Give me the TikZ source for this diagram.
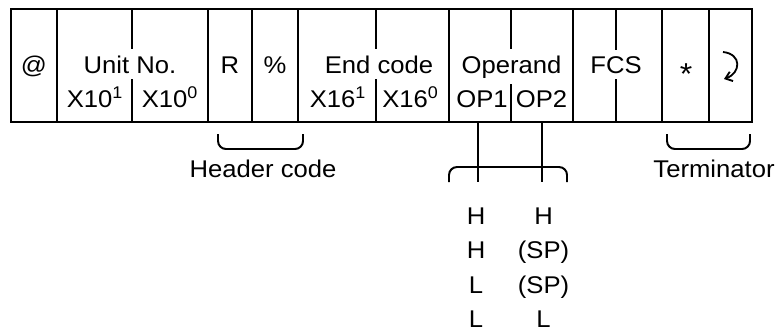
\documentclass[tikz,border=0pt]{standalone}
\usepackage{fontspec}
\setmainfont{Liberation Sans}[FakeStretch=1.06]
\usetikzlibrary{arrows.meta}

\begin{document}
\begin{tikzpicture}[
    x=0.025cm, y=-0.025cm,
    cell/.style={
        rectangle,
        draw,
        line width=1.4pt,
        minimum height=113*0.025cm,
        inner sep=0pt
    },
    lbl/.style={
        anchor=base,
        inner sep=0pt,
        font=\fontsize{17.2}{20}\selectfont
    },
    hdr/.style={
        lbl,
        fill=white,
        inner xsep=1pt,
        inner ysep=0.15cm
    },
    brace/.style={
        line width=1.4pt,
        rounded corners=0.2cm
    },
    link/.style={
        line width=1.4pt
    },
    crarrow/.style={
        line width=1.3pt,
        -{Straight Barb[length=4.5pt, width=7pt]}
    }
]
\useasboundingbox (0,0) rectangle (780,331);

% ------------------------------------------------
% Frame cells
% ------------------------------------------------
\foreach \l/\r/\n in {11/57/atsign, 57/132/unita, 132/208/unitb,
    208/252/hdrr, 252/298/hdrpct, 298/376/enda, 376/449/endb,
    449/511/opa, 511/573/opb, 573/616/fcsa, 616/662/fcsb,
    662/709/ast, 709/752/cr}{
  \node[cell, minimum width={(\r-\l)*0.025cm}] (\n) at ({(\l+\r)/2}, 65.5) {};
}

% ------------------------------------------------
% Top row texts
% ------------------------------------------------
\node[lbl] (tat)  at (34, 73)  {@};
\node[hdr] (tunit) at (130, 73) {Unit No.};
\node[lbl] (tr)   at (230, 73) {R};
\node[lbl] (tpct) at (275, 73) {\%};
\node[hdr] (tend) at (379, 73) {End code};
\node[hdr] (top)  at (511.5, 73) {Operand};
\node[hdr] (tfcs) at (616, 73) {FCS};
\node[lbl, font=\fontsize{21.5}{24}\selectfont] (tast) at (686, 84) {*};

% carriage return mark
\coordinate (crtop) at (723, 52);
\coordinate (crend) at (724, 79);
\draw[crarrow] (crtop) .. controls (742, 54) and (741, 73) .. (crend);

% ------------------------------------------------
% Second row texts
% ------------------------------------------------
\node[lbl] (bua) at (95, 107)  {X10\textsuperscript{1}};
\node[lbl] (bub) at (170, 107) {X10\textsuperscript{0}};
\node[lbl] (bea) at (338, 107) {X16\textsuperscript{1}};
\node[lbl] (beb) at (410.5, 107) {X16\textsuperscript{0}};
\node[lbl] (boa) at (482, 107) {OP1};
\node[lbl] (bob) at (541.5, 107) {OP2};

% ------------------------------------------------
% Braces
% ------------------------------------------------
\draw[brace] (218,134) -- (218,149) -- (303,149) -- (303,134);
\node[lbl] (hcode) at (263, 177) {Header code};

\draw[brace] (667,134) -- (667,149) -- (750,149) -- (750,134);
\node[lbl] (term) at (714, 177) {Terminator};

\draw[brace] (449,182) -- (449,167) -- (567,167) -- (567,182);

% ------------------------------------------------
% Operand links
% ------------------------------------------------
\coordinate (opl) at (478, 182);
\coordinate (opr) at (542, 182);
\draw[link] (opa.south -| opl) -- (opl);
\draw[link] (opb.south -| opr) -- (opr);

% ------------------------------------------------
% Operand values
% ------------------------------------------------
\foreach \a/\b [count=\i] in {H/H, H/(SP), L/(SP), L/L}{
  \node[lbl] (va\i) at (476, {189.5+34.5*\i}) {\a};
  \node[lbl] (vb\i) at (543.5, {189.5+34.5*\i}) {\b};
}

\end{tikzpicture}
\end{document}
